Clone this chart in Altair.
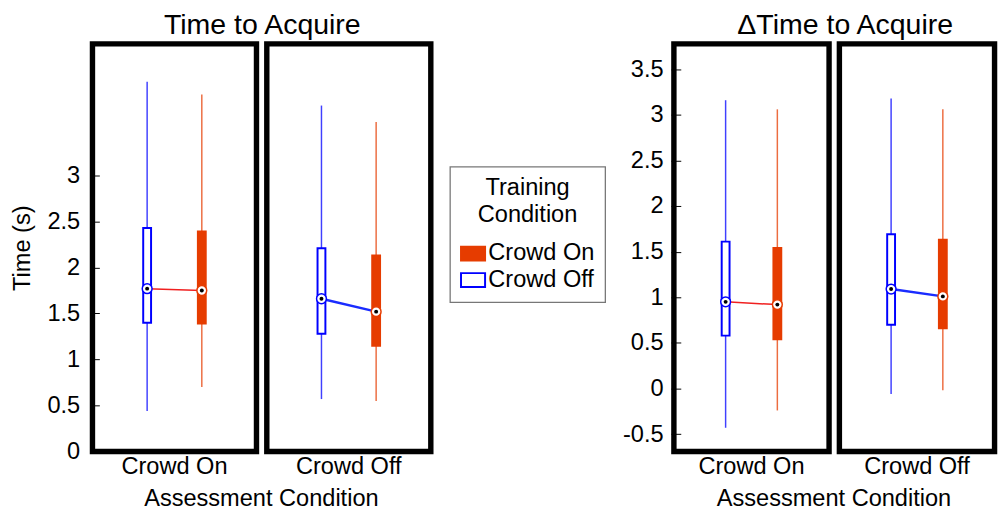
import altair as alt
import pandas as pd

# ---------------- data ----------------
assess = ["Crowd On", "Crowd On", "Crowd Off", "Crowd Off"]
train = ["Crowd Off", "Crowd On", "Crowd Off", "Crowd On"]

# Time to Acquire (s)
t_low = [0.44, 0.70, 0.57, 0.55]
t_q1 = [1.40, 1.39, 1.28, 1.15]
t_med = [1.77, 1.75, 1.66, 1.52]
t_q3 = [2.43, 2.39, 2.21, 2.13]
t_high = [4.02, 3.88, 3.76, 3.58]

# Delta Time to Acquire (s)
d_low = [-0.43, -0.24, -0.06, -0.02]
d_q1 = [0.58, 0.54, 0.70, 0.66]
d_med = [0.95, 0.92, 1.09, 1.01]
d_q3 = [1.61, 1.54, 1.69, 1.63]
d_high = [3.16, 3.06, 3.18, 3.06]

assess_order = ["Crowd On", "Crowd Off"]
train_x_order = ["Crowd Off", "Crowd On"]
legend_order = ["Crowd On", "Crowd Off"]

t_ticks = [0, 0.5, 1, 1.5, 2, 2.5, 3]
d_ticks = [-0.5, 0, 0.5, 1, 1.5, 2, 2.5, 3, 3.5]
t_domain = [0, 4.43]
d_domain = [-0.69, 3.777]

FONT = "Liberation Sans"
RED = "#e63c00"
BLUE = "#0000ff"
CELL_H = 415


def make_df(low, q1, med, q3, high):
    return pd.DataFrame({"assess": assess, "train": train, "low": low,
                         "q1": q1, "med": med, "q3": q3, "high": high})


legend = alt.Legend(title=["Training", "Condition"], orient="none",
                    legendX=364, legendY=125)


def panel(df, title, ytitle, ticks, domain, width, label_pad, title_dx):
    yscale = alt.Scale(domain=domain, nice=False, zero=False)
    yaxis = alt.Axis(values=ticks, title=ytitle, grid=False, domain=False,
                     tickSize=10, offset=-10, tickColor="black", tickWidth=1,
                     labelPadding=label_pad, labelFontSize=24, labelColor="black",
                     labelFlush=False, labelOverlap=False,
                     labelExpr="replace(format(datum.value, '~g'), '\u2212', '-')",
                     titleFontSize=24, titleFontWeight="normal", titleColor="black",
                     titlePadding=13)
    x = alt.X("train:N", scale=alt.Scale(type="point", padding=1, domain=train_x_order),
              axis=None)
    fill_box = alt.Fill("train:N", scale=alt.Scale(domain=legend_order, range=[RED, "white"]),
                        legend=legend)
    stroke_box = alt.Stroke("train:N", scale=alt.Scale(domain=legend_order, range=[RED, BLUE]),
                            legend=legend)
    stroke_plain = alt.Stroke("train:N", scale=alt.Scale(domain=legend_order, range=[RED, BLUE]),
                              legend=None)

    box = alt.Chart().mark_bar(width=8, strokeWidth=2).encode(
        x=x, y=alt.Y("q1:Q", scale=yscale, axis=yaxis), y2="q3:Q",
        fill=fill_box, stroke=stroke_box)
    whisk_lo = alt.Chart().mark_rule(strokeWidth=1.5, opacity=0.75).encode(
        x=x, y=alt.Y("low:Q", scale=yscale, axis=yaxis), y2="q1:Q", stroke=stroke_plain)
    whisk_hi = alt.Chart().mark_rule(strokeWidth=1.5, opacity=0.75).encode(
        x=x, y=alt.Y("q3:Q", scale=yscale, axis=yaxis), y2="high:Q", stroke=stroke_plain)
    conn = alt.Chart().mark_line().transform_calculate(
        lc="datum.assess == 'Crowd On' ? '#f02020' : '#1a2cff'",
        lw="datum.assess == 'Crowd On' ? 1.5 : 2.5",
    ).encode(
        x=x, y=alt.Y("med:Q", scale=yscale, axis=yaxis),
        stroke=alt.Stroke("lc:N", scale=None),
        strokeWidth=alt.StrokeWidth("lw:Q", scale=None))
    ring = alt.Chart().mark_circle(fill="white", size=100, strokeWidth=1.5, opacity=1).encode(
        x=x, y=alt.Y("med:Q", scale=yscale, axis=yaxis), stroke=stroke_plain)
    dot = alt.Chart().mark_circle(color="black", size=16, opacity=1).encode(
        x=x, y=alt.Y("med:Q", scale=yscale, axis=yaxis))

    layered = alt.layer(box, whisk_lo, whisk_hi, conn, ring, dot, data=df).properties(
        width=width, height=CELL_H)
    return layered.facet(
        column=alt.Column("assess:N", sort=assess_order, title="Assessment Condition",
                          header=alt.Header(labelOrient="bottom", titleOrient="bottom",
                                            labelFontSize=24, titleFontSize=24,
                                            labelFont=FONT, titleFont=FONT,
                                            labelColor="black", titleColor="black",
                                            titleFontWeight="normal",
                                            labelLineHeight=24, titleLineHeight=24,
                                            labelPadding=1, titlePadding=-2)),
        spacing=4.5,
    ).properties(title=alt.TitleParams(title, fontSize=29, font=FONT, fontWeight="normal",
                                       color="black", anchor="middle", offset=1,
                                       lineHeight=29, dx=title_dx))


p1 = panel(make_df(t_low, t_q1, t_med, t_q3, t_high), "Time to Acquire", "Time (s)",
           t_ticks, t_domain, 167, 10, 41)
p2 = panel(make_df(d_low, d_q1, d_med, d_q3, d_high), "\u0394Time to Acquire", None,
           d_ticks, d_domain, 158, 8, 36)

chart = alt.hconcat(p1, p2, spacing=191).resolve_scale(
    x="independent", y="independent", fill="shared", stroke="shared"
).properties(
    padding={"left": 2, "top": -1, "right": 0, "bottom": -5}
).configure(font=FONT).configure_view(
    stroke="black", strokeWidth=5.5
).configure_legend(
    strokeColor="#777777", strokeWidth=1.3, padding=10, fillColor="white",
    titleFontSize=24, titleFontWeight="normal", titleColor="black", titleFont=FONT,
    titleAlign="center", titleAnchor="middle", titleLineHeight=27, titlePadding=14,
    labelFontSize=24, labelColor="black", labelFont=FONT, labelOffset=2, labelLimit=300,
    symbolType="M-1,-0.58H1V0.58H-1Z", symbolSize=600, symbolStrokeWidth=2,
    rowPadding=1,
)

chart.save("out.html", embed_options={"renderer": "svg", "actions": False})
